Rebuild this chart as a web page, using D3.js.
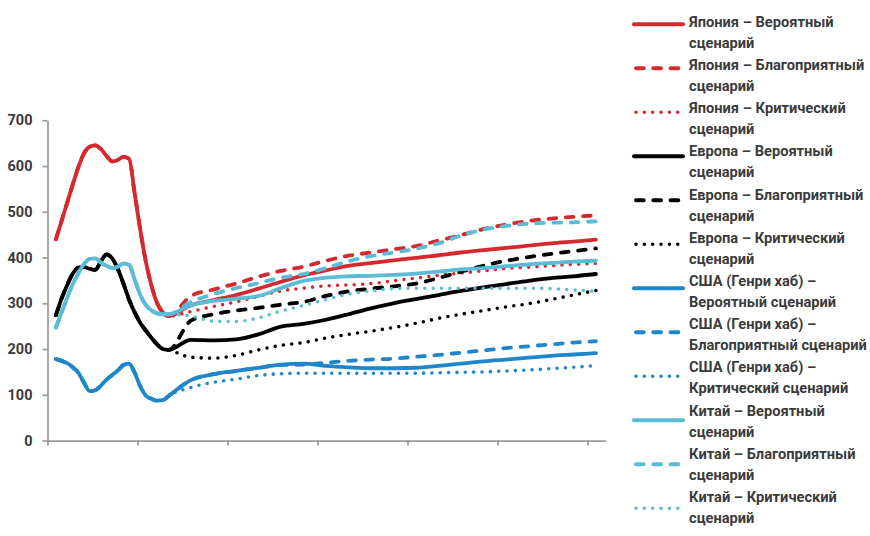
<!DOCTYPE html>
<html>
<head>
<meta charset="utf-8">
<script src="https://cdn.jsdelivr.net/npm/d3@7"></script>
<style>
  body { margin: 0; background: #fff; }
  svg { display: block; }
  text { font-family: Roboto, "Open Sans", sans-serif; font-weight: 700; fill: #3b3b3b; }
</style>
</head>
<body>
<svg id="chart" width="870" height="536"></svg>
<script>
// ---- data -------------------------------------------------------------
const yTickValues = [0, 100, 200, 300, 400, 500, 600, 700];

// Shared history (one value every half period, up to the scenario fork)
const histJapan  = [440, 480, 520, 560, 598, 628, 642, 645, 637, 622, 610, 613, 620, 616, 540, 460, 390, 338, 300, 280, 272];
const histEurope = [274, 310, 340, 365, 378, 379, 375, 373, 392, 407, 398, 375, 343, 308, 280, 257, 240, 224, 210, 200, 198];
const histUS     = [178, 174, 169, 160, 148, 126, 108, 110, 120, 133, 143, 153, 165, 168, 148, 118, 98, 91, 87, 88, 97];
const histChina  = [247, 280, 312, 342, 366, 386, 397, 398, 389, 382, 377, 380, 387, 384, 352, 318, 296, 284, 278, 276, 276];

// Scenario forecasts (one value every two periods after the fork)
const japanLikely     = [296, 307, 318, 332, 347, 361, 372, 382, 388, 394, 399, 405, 411, 416, 421, 426, 431, 435, 439];
const japanFavorable  = [316, 330, 343, 358, 371, 380, 393, 404, 411, 418, 425, 437, 449, 462, 472, 480, 485, 489, 492];
const japanCritical   = [282, 293, 303, 315, 327, 333, 338, 340, 343, 349, 355, 361, 366, 371, 376, 379, 382, 385, 387];

const europeLikely    = [220, 219, 221, 232, 249, 255, 264, 276, 289, 300, 309, 318, 327, 335, 342, 349, 355, 359, 364];
const europeFavorable = [262, 276, 284, 290, 297, 303, 316, 326, 332, 337, 343, 355, 369, 382, 393, 401, 408, 414, 420];
const europeCritical  = [182, 180, 186, 198, 208, 214, 224, 232, 239, 247, 256, 267, 276, 284, 292, 299, 308, 318, 328];

const usLikely        = [132, 145, 152, 159, 166, 168, 163, 160, 158, 158, 159, 163, 168, 173, 177, 181, 185, 188, 191];
const usFavorable     = [132, 145, 152, 159, 165, 166, 170, 174, 177, 179, 183, 187, 192, 197, 202, 206, 210, 214, 217];
const usCritical      = [116, 127, 134, 142, 146, 147, 147, 147, 147, 147, 147, 148, 149, 150, 152, 154, 157, 160, 164];

const chinaLikely     = [296, 305, 310, 316, 333, 349, 356, 359, 360, 362, 365, 369, 374, 377, 381, 385, 388, 391, 393];
const chinaFavorable  = [303, 320, 333, 344, 356, 364, 377, 392, 403, 411, 419, 431, 448, 461, 469, 474, 476, 477, 479];
const chinaCritical   = [272, 261, 260, 268, 283, 295, 308, 320, 327, 332, 333, 333, 333, 333, 333, 333, 332, 329, 326];

const legendLabels = [
  ["Япония – Вероятный", "сценарий"],
  ["Япония – Благоприятный", "сценарий"],
  ["Япония – Критический", "сценарий"],
  ["Европа – Вероятный", "сценарий"],
  ["Европа – Благоприятный", "сценарий"],
  ["Европа – Критический", "сценарий"],
  ["США (Генри хаб) –", "Вероятный сценарий"],
  ["США (Генри хаб) –", "Благоприятный сценарий"],
  ["США (Генри хаб) –", "Критический сценарий"],
  ["Китай – Вероятный", "сценарий"],
  ["Китай – Благоприятный", "сценарий"],
  ["Китай – Критический", "сценарий"]
];

const regionColors = { japan: "#d42a2f", europe: "#000000", us: "#1e86c9", china: "#5bbcd6" };
const dashStyles = { solid: null, dashed: "7.7,9.6", dotted: "0,8.35" };

// ---- build series ------------------------------------------------------
const histStart = 0.75, histStep = 0.5, fcStep = 2;
const histT = histJapan.map((_, i) => histStart + i * histStep);
const forkT = histT[histT.length - 1];

function build(hist, fc) {
  const pts = hist.map((v, i) => [histT[i], v]);
  fc.forEach((v, i) => pts.push([forkT + (i + 1) * fcStep, v]));
  return pts;
}

const series = [
  { color: regionColors.japan,  style: "solid",  pts: build(histJapan, japanLikely) },
  { color: regionColors.japan,  style: "dashed", pts: build(histJapan, japanFavorable) },
  { color: regionColors.japan,  style: "dotted", pts: build(histJapan, japanCritical) },
  { color: regionColors.europe, style: "solid",  pts: build(histEurope, europeLikely) },
  { color: regionColors.europe, style: "dashed", pts: build(histEurope, europeFavorable) },
  { color: regionColors.europe, style: "dotted", pts: build(histEurope, europeCritical) },
  { color: regionColors.us,     style: "solid",  pts: build(histUS, usLikely) },
  { color: regionColors.us,     style: "dashed", pts: build(histUS, usFavorable) },
  { color: regionColors.us,     style: "dotted", pts: build(histUS, usCritical) },
  { color: regionColors.china,  style: "solid",  pts: build(histChina, chinaLikely) },
  { color: regionColors.china,  style: "dashed", pts: build(histChina, chinaFavorable) },
  { color: regionColors.china,  style: "dotted", pts: build(histChina, chinaCritical) }
];
series.forEach((s, i) => s.label = legendLabels[i]);

// ---- scales & axes -----------------------------------------------------
const svg = d3.select("#chart");
const x = d3.scaleLinear().domain([0, 49.6]).range([47.5, 605.5]);
const y = d3.scaleLinear().domain([0, 700]).range([440.5, 120.3]);

const axisColor = "#9c9c9c";

const gx = svg.append("g").attr("transform", `translate(0,${y(0)})`)
  .call(d3.axisBottom(x).tickValues(d3.range(0, 49, 8)).tickSize(5).tickSizeOuter(0).tickFormat(""));
const gy = svg.append("g").attr("transform", `translate(${x(0)},0)`)
  .call(d3.axisLeft(y).tickValues(yTickValues).tickSize(5).tickSizeOuter(0).tickPadding(10));

[gx, gy].forEach(g => {
  g.select(".domain").attr("stroke", axisColor).attr("stroke-width", 1.75);
  g.selectAll(".tick line").attr("stroke", axisColor).attr("stroke-width", 1.75);
});
gy.selectAll(".tick text").attr("font-size", 14.5).attr("fill", "#3b3b3b")
  .style("font-family", "Roboto, sans-serif").style("font-weight", 700);

// ---- lines -------------------------------------------------------------
const line = d3.line().x(d => x(d[0])).y(d => y(d[1])).curve(d3.curveMonotoneX);

svg.append("g").selectAll("path").data(series).join("path")
  .attr("d", d => line(d.pts))
  .attr("fill", "none")
  .attr("stroke", d => d.color)
  .attr("stroke-width", d => d.style === "dotted" ? 3.6 : 3.8)
  .attr("stroke-linecap", "round")
  .attr("stroke-linejoin", "round")
  .attr("stroke-dasharray", d => dashStyles[d.style]);

// ---- legend ------------------------------------------------------------
const legend = svg.append("g");
const swatchX0 = 634, swatchX1 = 683, textX = 689;
const swatchTop = 24.3, swatchGap = 44;
const textTop = 21.7, textGap = 43.2, lineGap = 21;
const maxTextWidth = 178;
let legendFont = 15;

series.forEach((s, i) => {
  const sy = swatchTop + i * swatchGap;
  legend.append("line")
    .attr("x1", swatchX0 + (s.style === "solid" ? 0 : 2)).attr("x2", swatchX1)
    .attr("y1", sy).attr("y2", sy)
    .attr("stroke", s.color)
    .attr("stroke-width", s.style === "dotted" ? 3.6 : 4)
    .attr("stroke-linecap", "round")
    .attr("stroke-dasharray", dashStyles[s.style]);
  const ty = textTop + i * textGap;
  s.label.forEach((txt, k) => {
    legend.append("text")
      .attr("class", "legend-text")
      .attr("x", textX).attr("y", ty + k * lineGap)
      .attr("dy", "0.35em")
      .attr("font-size", legendFont)
      .text(txt);
  });
});

// keep the widest legend line inside the right margin
const widest = d3.max(legend.selectAll(".legend-text").nodes(), n => n.getComputedTextLength());
if (widest > maxTextWidth) {
  legendFont = legendFont * maxTextWidth / widest;
  legend.selectAll(".legend-text").attr("font-size", legendFont);
}
</script>
</body>
</html>
